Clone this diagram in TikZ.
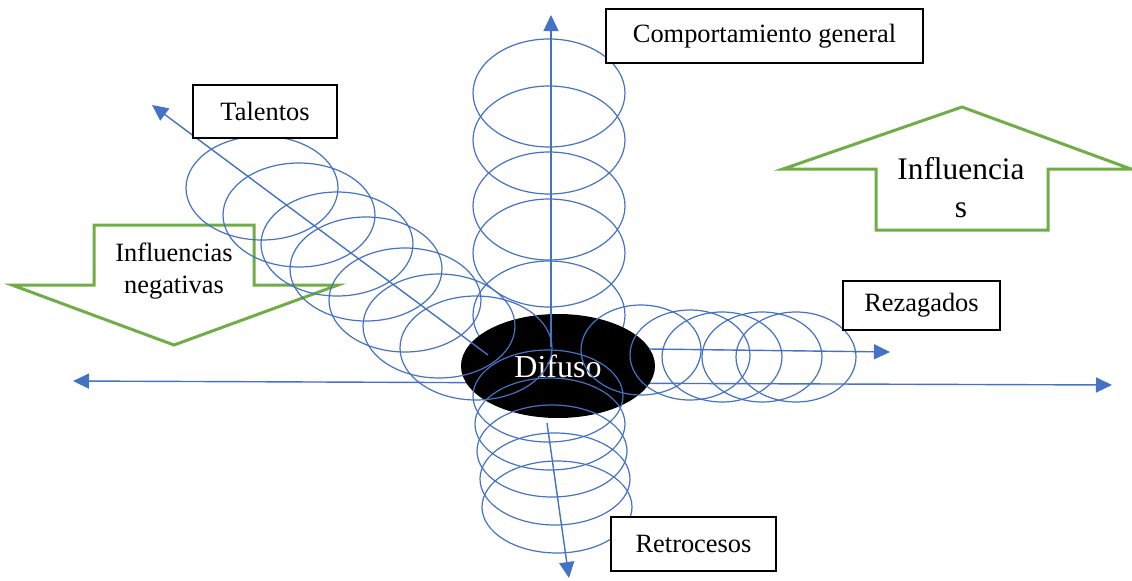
\documentclass[tikz,border=0pt]{standalone}
\usepackage{fontspec}
\setmainfont{Liberation Serif}
\usetikzlibrary{arrows.meta,shapes.geometric}
\definecolor{ringblue}{HTML}{4472C4}
\definecolor{influgreen}{HTML}{70AD47}

\begin{document}
\begin{tikzpicture}[x=0.5pt, y=-0.5pt,
  ring/.style={draw=ringblue, line width=0.6pt},
  axis/.style={-{Triangle[length=8pt,width=7.5pt]}, draw=ringblue, fill=ringblue, line width=0.7pt},
  tag/.style={rectangle, draw, fill=white, line width=0.65pt, inner sep=0pt, font=\fontsize{13.2}{15.5}\selectfont},
  core/.style={ellipse, fill=black, text=white, minimum width=97pt, minimum height=52pt, inner sep=0pt, font=\fontsize{16}{19}\selectfont},
  bigarrow/.style={draw=influgreen, line width=1.5pt},
  arrowtext/.style={align=center, inner sep=0pt}
]
\useasboundingbox (0,0) rectangle (1132,580);

% green block arrows
\draw[bigarrow] (94,225) -- (254,225) -- (254,285) -- (338,285) -- (174,345) -- (12,285) -- (94,285) -- cycle;
\node[arrowtext, font=\fontsize{13.2}{16}\selectfont] (neg) at (174,271) {Influencias\\negativas};
\draw[bigarrow] (876,230) -- (876,169) -- (783,169) -- (962,107) -- (1131,169) -- (1048,169) -- (1048,230) -- cycle;
\node[arrowtext, font=\fontsize{15.7}{19}\selectfont] (pos) at (961,188) {Influencia\\s};

% rings going up
\foreach \y in {93,140,206,253,315}
  \draw[ring] (549,\y) ellipse [x radius=38pt, y radius=27pt];

% horizontal axis
\coordinate (mid) at (560,383);
\coordinate (west) at (73,381);
\coordinate (east) at (1112,385);
\draw[axis] (mid) -- (west);
\draw[axis] (mid) -- (east);

\node[core] (difuso) at (558,366) {Difuso};

% rings towards Talentos
\foreach \x/\y in {262/188, 299/215, 337/244, 366/269, 405/300, 439/326, 476/348}
  \draw[ring] (\x,\y) ellipse [x radius=38pt, y radius=26pt];

% rings towards Rezagados
\foreach \x/\y in {641/350, 690/355, 722/357, 762/357, 796/357}
  \draw[ring] (\x,\y) ellipse [x radius=30pt, y radius=22.5pt];

% rings going down
\foreach \x/\y in {548/396, 550/424, 552/451, 555/479, 557/507}
  \draw[ring] (\x,\y) ellipse [x radius=37.5pt, y radius=23pt];

% the other arrows
\coordinate (n0) at (551,347);
\coordinate (n1) at (551,15);
\coordinate (t0) at (488,355);
\coordinate (t1) at (152,105);
\coordinate (r0) at (649,349);
\coordinate (r1) at (890,352);
\coordinate (s0) at (547,423);
\coordinate (s1) at (569,578);
\draw[axis] (n0) -- (n1);
\draw[axis] (t0) -- (t1);
\draw[axis] (r0) -- (r1);
\draw[axis] (s0) -- (s1);

% labels
\node[tag, minimum width=72pt, minimum height=26.5pt] (talentos) at (265,111.5) {Talentos};
\node[tag, minimum width=158.5pt, minimum height=27pt] (general) at (764.5,36) {Comportamiento general};
\node[tag, minimum width=78.5pt, minimum height=24.5pt] (rezagados) at (921.5,305.5) {Rezagados};
\node[tag, minimum width=82.5pt, minimum height=27pt] (retrocesos) at (693.5,544) {Retrocesos};
\end{tikzpicture}
\end{document}
